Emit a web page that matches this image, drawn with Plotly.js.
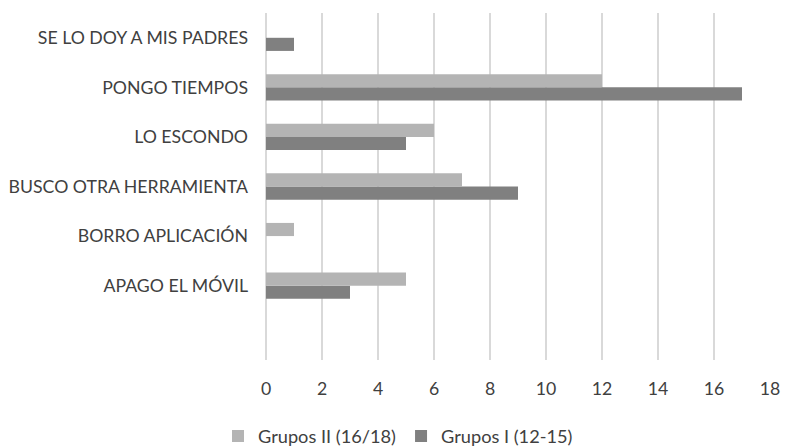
<!DOCTYPE html>
<html>
<head>
<meta charset="utf-8">
<script src="https://cdn.plot.ly/plotly-3.0.1.min.js"></script>
<style>html,body{margin:0;padding:0;background:#fff;}#chart{width:785px;height:446px;}</style>
</head>
<body>
<div id="chart"></div>
<script>
const categories = ["APAGO EL MÓVIL", "BORRO APLICACIÓN", "BUSCO OTRA HERRAMIENTA", "LO ESCONDO", "PONGO TIEMPOS", "SE LO DOY A MIS PADRES"];
const gruposI = [3, 0, 9, 5, 17, 1];
const gruposII = [5, 1, 7, 6, 12, 0];
const xTicks = [0, 2, 4, 6, 8, 10, 12, 14, 16, 18];

const traces = [
  {type: 'bar', orientation: 'h', name: 'Grupos I (12-15)', y: categories, x: gruposI,
   marker: {color: '#808080'}},
  {type: 'bar', orientation: 'h', name: 'Grupos II (16/18)', y: categories, x: gruposII,
   marker: {color: '#b4b4b4'}}
];

const layout = {
  width: 785, height: 446,
  margin: {l: 266, r: 15, t: 13, b: 86, autoexpand: false},
  paper_bgcolor: '#ffffff', plot_bgcolor: '#ffffff',
  font: {family: 'Lato, "Open Sans", sans-serif', size: 17.7, color: '#404040'},
  barmode: 'group', bargap: 0.47, bargroupgap: 0,
  showlegend: true,
  legend: {orientation: 'h', traceorder: 'reversed', xref: 'container', x: 0.507, xanchor: 'center',
           yref: 'container', y: 0.022, yanchor: 'middle', itemwidth: 30,
           font: {size: 18.2, color: '#404040'}},
  xaxis: {range: [0, 18], tickvals: xTicks, ticktext: xTicks.map(String), showgrid: true,
          gridcolor: '#d9d9d9', gridwidth: 1.5, zeroline: true, zerolinecolor: '#d9d9d9', zerolinewidth: 1.5,
          showline: false, ticks: '', ticklabelstandoff: 16, automargin: false},
  yaxis: {type: 'category', categoryarray: categories, categoryorder: 'array', range: [-1.5, 5.5],
          showgrid: false, zeroline: false, showline: false, ticks: '', ticklabelstandoff: 17, automargin: false}
};

Plotly.newPlot('chart', traces, layout, {displayModeBar: false, staticPlot: true});
</script>
</body>
</html>
